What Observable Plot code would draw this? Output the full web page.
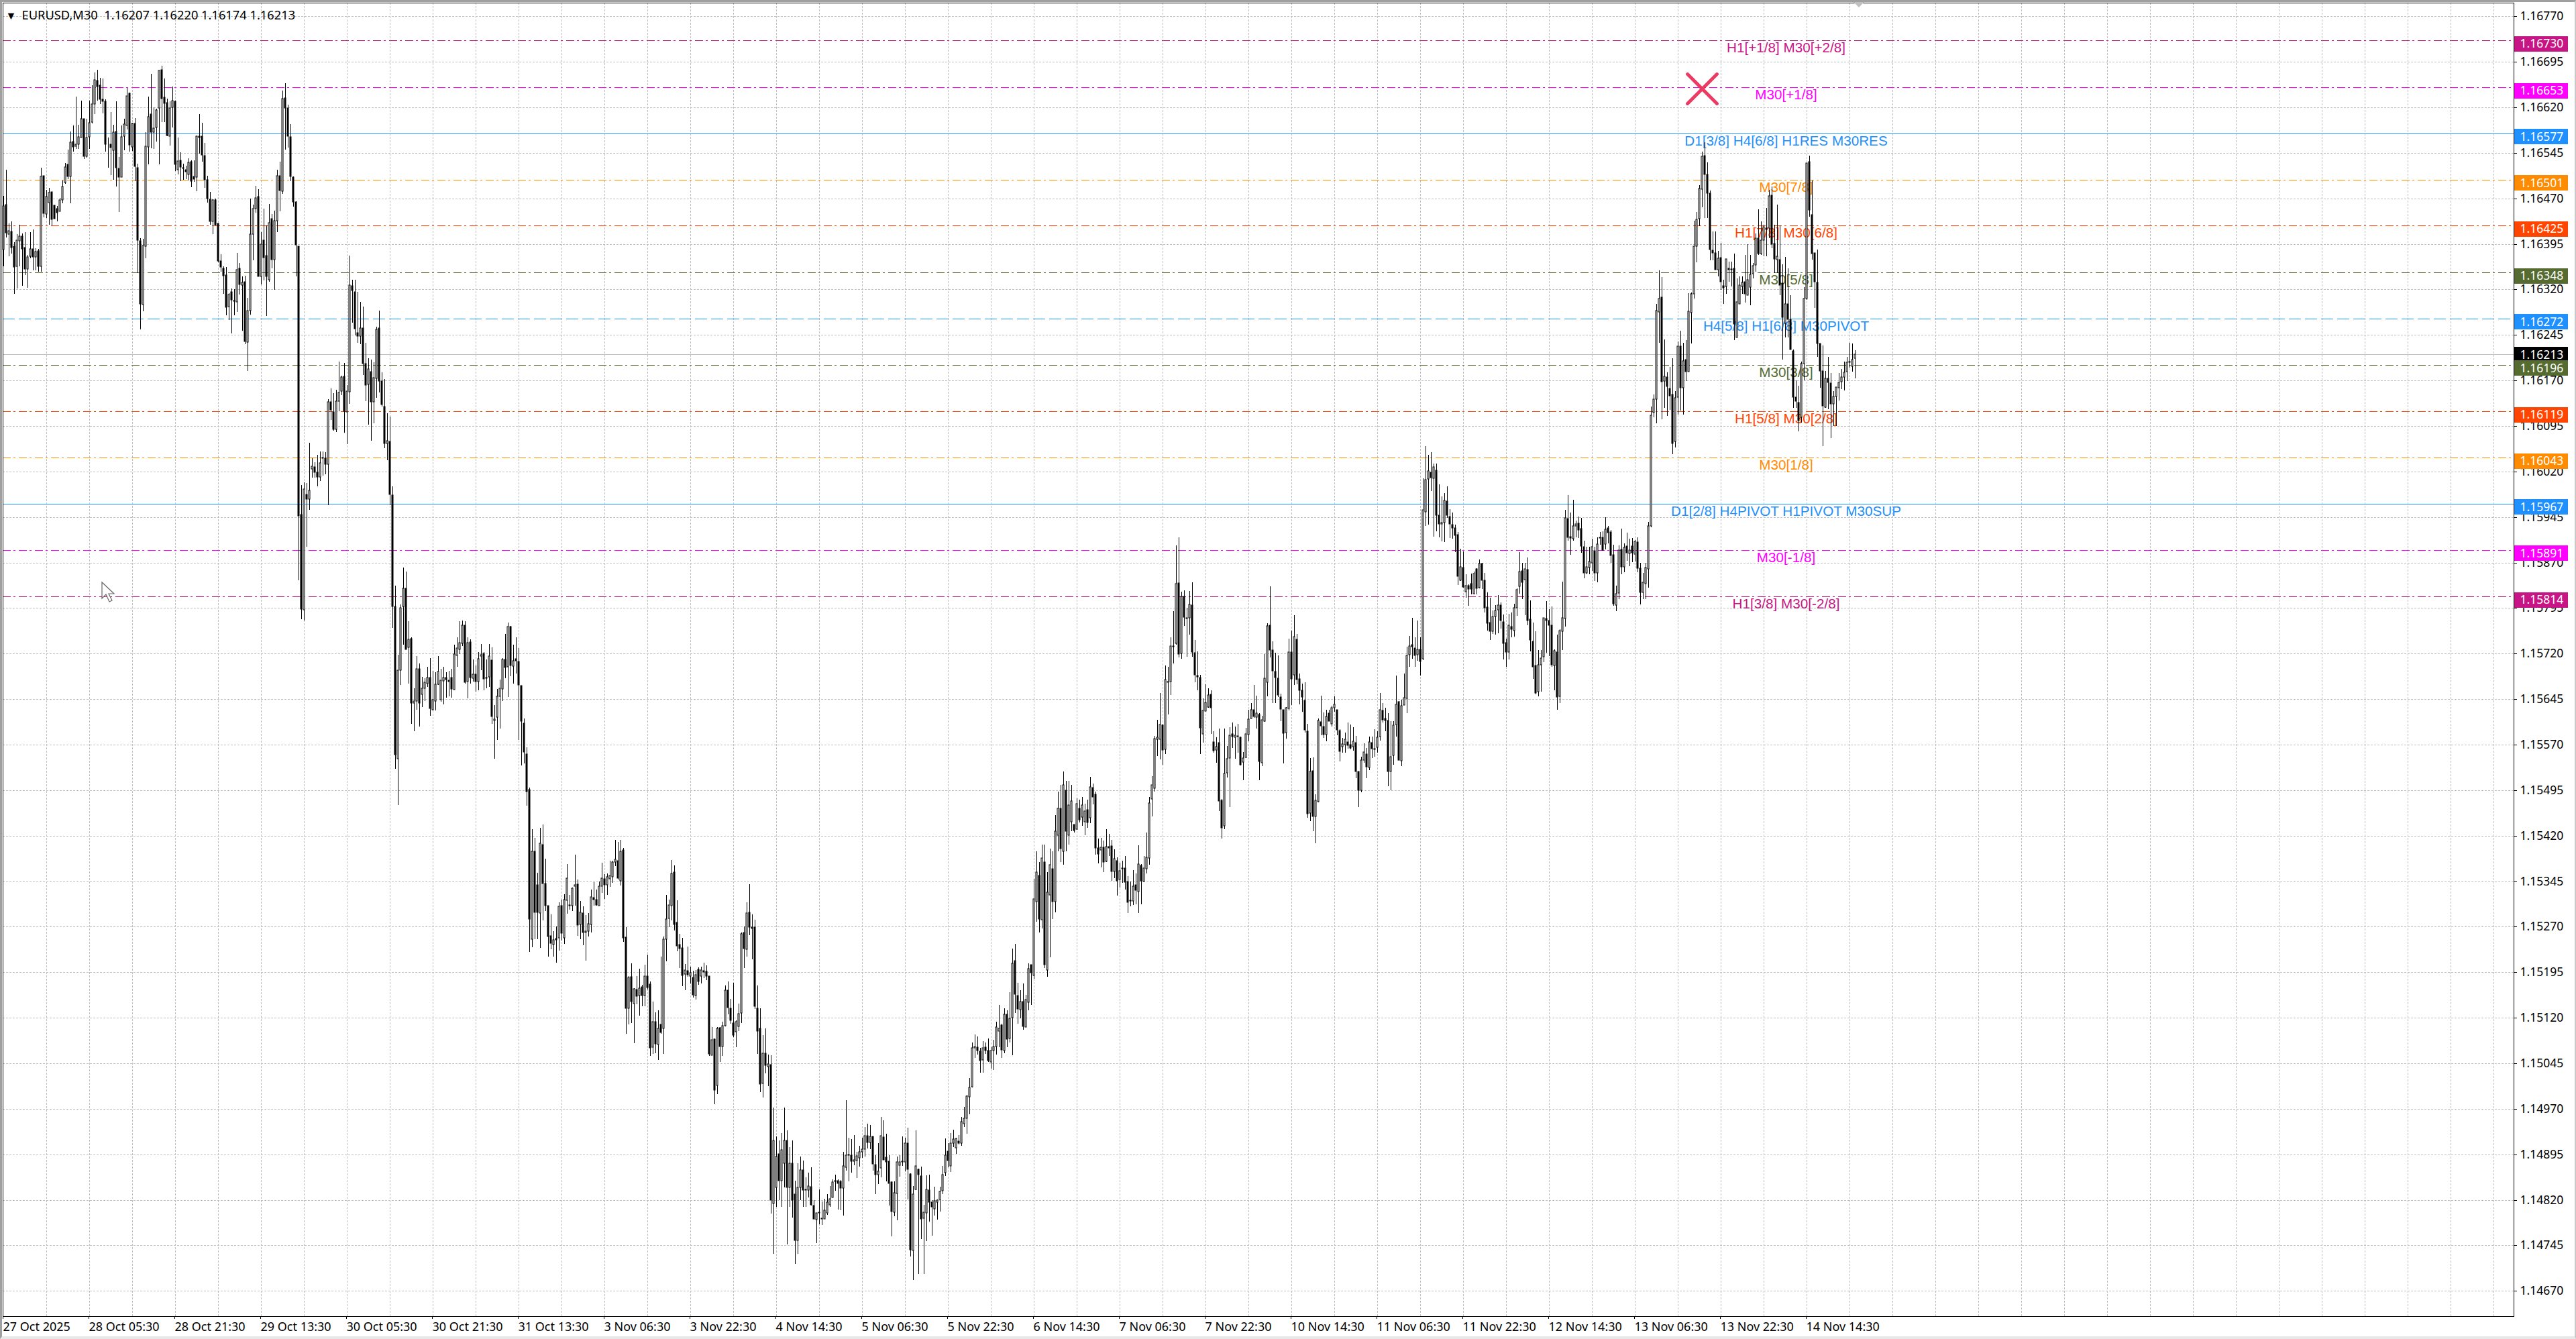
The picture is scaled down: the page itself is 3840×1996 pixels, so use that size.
<!DOCTYPE html>
<html><head><meta charset="utf-8">
<script src="https://cdn.jsdelivr.net/npm/d3@7"></script>
<script src="https://cdn.jsdelivr.net/npm/@observablehq/plot@0.6"></script>
<style>
html,body{margin:0;padding:0;background:#fff;width:3840px;height:1996px;overflow:hidden}
#chart{position:absolute;left:0;top:0}
#chart svg{background:#fff;display:block}
#frame{position:absolute;left:0;top:0;width:3840px;height:1996px;box-sizing:border-box;border-top:3px solid #a0a0a0;border-left:3px solid #a0a0a0;border-right:2px solid #c8c8c8;border-bottom:4px solid #e8e8e8;pointer-events:none}
</style></head><body>
<div id="chart"></div><div id="frame"></div>
<svg style="position:absolute;left:150px;top:866px" width="30" height="36"><path d="M2 2 L2 26 L8 20 L13 31 L17 29 L12 19 L20 19 Z" fill="#fff" stroke="#666" stroke-width="1.2"/></svg>
<svg style="position:absolute;left:2762px;top:3px" width="18" height="10"><path d="M1 0 L17 0 L9 8 Z" fill="#c0c0c0"/></svg>
<script>
// EURUSD M30: flat open, high, low, close quadruples, each value v means 1 + v/100000
const barsOct27 = [16386,16474,16358,16458,16460,16517,16406,16413,16411,16429,16375,16417,16415,16432,16379,16389,16391,16398,16313,16357,16358,16411,16322,16401,16400,16427,16358,16408,16408,16412,16326,16387,16389,16414,16344,16354,16354,16377,16323,16374,16375,16414,16371,16387,16387,16419,16351,16373,16374,16388,16351,16382,16383,16387,16349,16358,16358,16520,16349,16506,16507,16507,16439,16445,16444,16484,16438,16473,16463,16487,16427,16480,16481,16481,16425,16435,16459,16459,16437,16437,16453,16458,16432,16447,16449,16471,16449,16467,16468,16499,16462,16490,16496,16528,16494,16522,16526,16550,16502,16506,16506,16580,16462,16563,16564,16590,16547,16555,16556,16638,16551,16559,16559,16591,16552,16571,16570,16631,16570,16601,16601,16601,16535,16539,16539,16601,16537,16570,16571,16631,16552,16595,16596,16657,16593,16625,16626,16677,16609,16665,16664,16682,16631,16654,16656,16669,16625,16633,16633,16668,16610,16630,16630,16633,16547,16559,16558,16570,16520,16558,16559,16612,16508,16554,16549,16591,16501,16579,16580,16630,16490,16521,16519,16538,16448,16505,16505,16590,16505,16571,16573,16601,16549,16592,16590,16652,16584,16639,16643,16644,16547,16558,16555,16595,16548,16594,16593,16602,16498,16523,16520,16527,16347,16401,16400,16404,16254,16296,16295,16403,16284,16392,16391,16579,16371,16556,16555,16638,16526,16604,16609,16675,16553,16579,16579,16620,16551,16586,16587,16618,16564,16616,16619,16681,16526,16681,16682,16689,16596,16634,16637,16668,16596,16627,16628,16634,16573,16574,16572,16630,16557,16619,16620,16654,16587,16631,16630,16631,16515,16526,16517,16570,16510,16532,16533,16546,16498,16522,16520,16527,16501,16519,16517,16524,16502,16514,16509,16536,16500,16529,16531,16533,16488,16498,16506,16533,16497,16502,16505,16574,16482,16573,16573,16609,16544,16570,16573,16595,16531,16542,16540,16561,16487,16501,16501,16507,16463,16470,16469,16481,16427,16432,16432,16469,16411,16467,16467,16470,16425,16427,16429,16429,16365,16367,16367,16378,16349,16357,16355,16358,16313,16343,16344,16357,16277,16291,16292,16314,16270,16312,16316,16322,16248,16303,16301,16320,16277,16302,16300,16380,16283,16353,16355,16364,16312,16328,16327,16342,16252,16332,16333,16343,16230,16234,16233,16306,16186,16285,16285,16470,16279,16411,16411,16460,16368,16453,16453,16491,16447,16471,16473,16485,16342,16342,16341,16414,16328,16394,16401,16453,16335,16372,16376,16425,16276,16341,16336,16461,16333,16430,16436,16444,16355,16369,16369,16450,16319,16433,16433,16517,16414,16507,16507,16530,16449,16483,16482,16648,16477,16634,16635,16660,16550,16619,16619,16624,16554,16572,16571,16592,16498,16506,16505,16506,16456,16464,16464,16465,16341,16393,16391,16391,15841,15947];
const barsOct30 = [15949,15998,15777,15793,15792,16002,15775,15991,15982,16001,15896,15975,15975,16067,15957,15989,16024,16042,16010,16029,16028,16035,16010,16019,16019,16048,15996,16011,16011,16053,16004,16034,16042,16053,16013,16043,16042,16052,16015,16032,16032,16139,15965,16135,16135,16157,16105,16121,16118,16149,16087,16090,16090,16155,16085,16136,16136,16201,16119,16150,16152,16178,16146,16176,16177,16199,16084,16119,16118,16162,16065,16152,16151,16376,16132,16327,16326,16336,16265,16318,16316,16336,16244,16255,16249,16316,16232,16243,16243,16299,16230,16256,16256,16292,16179,16198,16198,16232,16136,16162,16163,16207,16097,16189,16184,16204,16071,16135,16135,16200,16099,16175,16173,16259,16141,16254,16256,16285,16150,16169,16169,16183,16127,16130,16127,16172,16058,16066,16066,16116,16039,16071,16070,16110,15965,15982,15981,15996,15762,15798,15798,15832,15530,15553,15547,15718,15470,15693,15693,15801,15668,15796,15798,15862,15735,15827,15828,15855,15727,15727,15730,15773,15671,15744,15745,15747,15604,15638,15638,15663,15592,15642,15642,15716,15627,15695,15695,15704,15600,15639,15653,15682,15632,15663,15663,15679,15642,15673,15671,15698,15665,15681,15680,15713,15618,15630,15627,15692,15626,15644,15642,15689,15626,15670,15670,15716,15668,15690,15644,15695,15641,15676,15675,15698,15636,15680,15680,15689,15647,15677,15676,15692,15650,15674,15680,15695,15647,15662,15661,15735,15661,15719,15717,15747,15698,15729,15727,15773,15719,15738,15737,15775,15733,15767,15767,15773,15671,15673,15674,15747,15646,15738,15739,15744,15671,15680,15679,15710,15674,15686,15686,15700,15657,15674,15674,15723,15660,15712,15716,15736,15693,15718,15720,15723,15659,15678,15680,15710,15663,15679,15682,15736,15665,15716,15709,15730,15604,15616,15610,15635,15547,15612,15615,15662,15578,15650,15650,15677,15597,15663,15662,15713,15642,15710,15710,15752,15679,15697,15698,15771,15649,15764,15765,15766,15683,15700,15699,15735,15671,15708,15711,15747,15687,15708,15707,15729,15578,15668,15667,15667,15536,15609,15605,15613,15539,15558,15554,15566,15469,15493,15496,15499,15228,15283,15250,15431,15236,15394,15394,15416,15250,15294];
const barsNov3 = [15339,15359,15250,15294,15293,15433,15235,15408,15405,15438,15280,15341,15341,15382,15296,15305,15305,15305,15221,15254,15255,15290,15233,15243,15241,15263,15221,15248,15251,15271,15211,15248,15252,15310,15231,15304,15305,15315,15247,15259,15252,15324,15242,15315,15314,15373,15291,15350,15306,15322,15298,15305,15305,15335,15296,15333,15337,15389,15305,15339,15340,15348,15255,15273,15274,15312,15249,15294,15293,15304,15240,15260,15260,15289,15214,15263,15263,15293,15254,15275,15274,15331,15261,15319,15318,15343,15305,15315,15315,15331,15305,15306,15305,15344,15305,15337,15337,15375,15326,15350,15349,15357,15316,15339,15339,15358,15322,15352,15349,15379,15336,15355,15352,15379,15342,15377,15377,15413,15370,15381,15379,15410,15348,15350,15346,15413,15338,15394,15396,15400,15245,15252,15253,15269,15094,15136,15136,15189,15109,15187,15188,15210,15111,15147,15143,15169,15078,15168,15167,15189,15142,15156,15157,15201,15123,15169,15171,15174,15139,15157,15157,15207,15139,15189,15189,15224,15167,15170,15175,15180,15057,15070,15071,15147,15060,15114,15113,15129,15062,15077,15076,15132,15050,15102,15109,15221,15094,15096,15102,15254,15060,15250,15249,15322,15213,15283,15284,15315,15269,15306,15305,15380,15280,15358,15360,15371,15264,15274,15277,15314,15230,15238,15241,15258,15202,15234,15235,15252,15172,15190,15192,15209,15166,15199,15198,15237,15188,15191,15189,15204,15177,15194,15187,15197,15153,15158,15157,15199,15150,15191,15200,15203,15174,15180,15189,15204,15176,15199,15197,15211,15185,15195,15196,15206,15182,15189,15189,15189,15057,15060,15058,15105,15058,15084,15085,15086,14978,15001,15009,15105,14994,15103,15104,15105,15047,15073,15073,15114,15057,15107,15107,15173,15106,15166,15166,15180,15126,15137,15136,15151,15110,15116,15111,15178,15088,15091,15097,15116,15072,15113,15106,15143,15098,15127,15128,15261,15111,15258,15260,15270,15202,15234,15233,15310,15221,15293,15294,15340,15256,15269,15269,15290,15216,15267,15269,15281,15135,15139,15136,15173,15061,15098,15103,15136,14998,15011,15012,15091,14989,15062,15062,15102,15028,15042,15039,15059,15007,15044,15043,15058,14797,14819,14814,14972,14731,14918,14841,14924,14808,14891,14896,14918,14819,14852,14852,14930,14808,14902,14880,14972,14841,14918,14918,14935,14747,14841,14841,14907,14808,14880,14880,14918,14791,14819,14830,14852,14714,14753,14753,14880,14731,14841,14841,14891,14819,14869,14869,14885,14808,14836];
const barsNov5 = [14836,14857,14808,14837,14836,14865,14824,14843,14842,14874,14811,14812,14811,14820,14788,14789,14788,14799,14749,14799,14800,14837,14780,14798,14789,14817,14779,14790,14789,14822,14789,14803,14799,14829,14795,14816,14812,14843,14808,14822,14824,14854,14824,14849,14852,14862,14835,14851,14852,14854,14804,14847,14851,14853,14803,14839,14839,14899,14794,14876,14874,14984,14868,14894,14894,14922,14850,14895,14894,14920,14865,14884,14884,14927,14877,14886,14885,14899,14856,14892,14889,14909,14875,14899,14899,14922,14889,14904,14904,14940,14891,14926,14926,14945,14905,14915,14915,14943,14904,14925,14925,14925,14868,14879,14878,14894,14830,14861,14861,14913,14846,14867,14873,14957,14857,14926,14923,14951,14886,14886,14890,14929,14851,14883,14884,14894,14811,14847,14849,14851,14760,14801,14800,14851,14793,14832,14831,14891,14786,14883,14877,14894,14858,14883,14883,14925,14876,14884,14883,14922,14867,14914,14913,14939,14821,14870,14863,14864,14727,14738,14737,14843,14688,14830,14837,14935,14836,14876,14870,14871,14698,14861,14859,14875,14755,14789,14790,14812,14698,14800,14799,14860,14752,14837,14836,14862,14784,14816,14816,14819,14761,14808,14805,14842,14794,14818,14816,14821,14788,14820,14821,14842,14801,14834,14835,14876,14829,14862,14865,14921,14859,14894,14900,14913,14874,14885,14876,14930,14866,14914,14913,14936,14907,14920,14906,14922,14896,14921,14917,14927,14911,14913,14914,14957,14909,14949,14946,14973,14940,14954,14954,14993,14929,14991,14990,15021,14961,15005,15006,15079,15005,15070,15070,15092,15054,15073,15072,15089,15059,15066,15065,15070,15029,15049,15050,15082,15030,15070,15072,15079,15060,15066,15066,15086,15047,15049,15047,15072,15036,15066,15066,15084,15034,15073,15073,15113,15059,15105,15098,15141,15072,15103,15108,15110,15054,15067,15066,15136,15062,15126,15126,15132,15072,15085,15086,15162,15079,15119,15120,15234,15058,15210,15214,15242,15128,15159,15157,15178,15110,15134,15133,15166,15119,15147,15147,15177,15100,15106,15105,15158,15105,15150,15146,15210,15132,15201,15207,15207,15141,15194,15190,15349,15184,15316,15311,15394,15278,15360,15355,15377,15261,15283,15281,15405,15267,15383,15377,15405,15202,15207,15199,15360,15188,15327,15322,15399,15220,15372,15366,15394,15283,15311,15311,15454,15294,15427,15421,15493,15394,15465,15465,15504,15377,15399,15394,15526,15372,15504,15495,15510,15394,15427,15421,15510,15405,15471,15443,15504,15427,15477];
const barsNov7 = [15439,15439,15425,15429,15431,15482,15430,15473,15465,15479,15442,15446,15451,15484,15436,15470,15443,15473,15421,15461,15463,15479,15433,15442,15449,15517,15441,15500,15499,15506,15472,15484,15488,15493,15389,15400,15400,15415,15374,15390,15397,15416,15368,15401,15401,15412,15360,15377,15378,15431,15377,15402,15402,15423,15387,15400,15403,15413,15346,15361,15361,15398,15350,15382,15379,15384,15321,15346,15348,15376,15335,15362,15366,15379,15342,15367,15367,15387,15331,15343,15345,15353,15293,15310,15313,15345,15304,15314,15312,15363,15306,15337,15339,15358,15307,15330,15328,15404,15293,15373,15371,15373,15307,15346,15345,15386,15344,15367,15366,15425,15358,15384,15383,15484,15372,15474,15481,15518,15452,15504,15498,15584,15493,15580,15579,15611,15551,15582,15579,15655,15546,15603,15602,15604,15537,15561,15562,15700,15555,15677,15673,15698,15620,15674,15674,15747,15652,15733,15733,15790,15704,15731,15737,15898,15735,15835,15836,15912,15714,15719,15720,15822,15711,15814,15814,15824,15766,15780,15778,15795,15715,15779,15779,15823,15751,15801,15800,15838,15715,15722,15721,15742,15673,15685,15684,15724,15660,15682,15681,15685,15554,15598,15588,15646,15573,15626,15625,15670,15625,15640,15632,15663,15631,15652,15653,15660,15588,15631,15574,15592,15557,15560,15561,15582,15540,15567,15573,15597,15461,15477,15478,15480,15415,15433,15436,15597,15431,15522,15524,15568,15516,15547,15548,15599,15467,15585,15588,15607,15564,15583,15582,15600,15547,15586,15584,15604,15557,15583,15582,15583,15536,15537,15541,15558,15511,15548,15549,15598,15548,15588,15587,15627,15576,15612,15613,15638,15613,15627,15628,15668,15614,15616,15615,15651,15596,15622,15620,15622,15511,15542,15540,15617,15535,15611,15609,15719,15608,15679,15673,15770,15650,15766,15767,15831,15714,15726,15726,15740,15639,15692,15691,15721,15639,15680,15679,15717,15649,15652,15649,15654,15609,15629,15628,15628,15539,15589,15590,15632,15580,15631,15630,15745,15626,15723,15723,15758,15635,15678,15685,15783,15668,15748,15743,15752,15670,15677,15678,15687,15636,15660,15659,15671,15624,15648,15643,15673,15590,15594,15592,15604,15449,15456,15457,15548,15444,15526,15527,15549,15427,15452,15452,15488,15408,15478,15476,15613,15475,15610,15608,15651,15585,15601,15600,15623,15581,15587,15587,15628,15576,15616,15622,15628,15609,15609,15604,15634,15600,15631,15631,15650,15624,15636,15628,15628,15585,15594,15593,15595,15542,15559,15567,15581,15557,15571,15570,15590,15557,15579,15574,15606,15563,15569,15570,15603,15562,15564,15567,15599,15560,15576];
const barsNov11 = [15573,15584,15515,15526,15526,15526,15467,15495,15495,15550,15492,15545,15545,15572,15540,15558,15555,15565,15515,15534,15532,15583,15528,15574,15573,15583,15548,15563,15563,15595,15550,15562,15566,15592,15557,15582,15583,15655,15577,15628,15626,15639,15607,15611,15613,15631,15592,15610,15610,15622,15502,15526,15526,15609,15495,15550,15552,15609,15537,15602,15603,15684,15583,15636,15641,15642,15544,15545,15543,15644,15535,15634,15635,15687,15635,15647,15646,15731,15622,15717,15718,15749,15698,15733,15735,15779,15712,15731,15729,15747,15698,15717,15718,15774,15708,15727,15727,15747,15684,15707,15711,16009,15709,15957,15954,16062,15930,16007,16008,16048,15932,16021,16019,16052,15988,16010,16009,16033,15913,16028,16022,16033,15921,15948,15948,15999,15911,15934,15934,15979,15905,15936,15936,15985,15904,15972,15971,15995,15944,15948,15946,15958,15910,15934,15933,15952,15909,15927,15927,15932,15887,15915,15916,15920,15833,15847,15841,15893,15840,15863,15862,15888,15829,15830,15822,15851,15812,15832,15832,15834,15799,15826,15835,15852,15818,15826,15819,15855,15818,15852,15860,15861,15818,15828,15829,15875,15827,15868,15868,15869,15826,15841,15841,15853,15788,15796,15797,15821,15758,15770,15771,15812,15742,15757,15757,15791,15752,15781,15781,15800,15751,15791,15792,15816,15754,15800,15800,15804,15761,15775,15772,15784,15710,15737,15738,15745,15698,15723,15722,15785,15710,15767,15764,15788,15747,15760,15758,15802,15748,15795,15796,15828,15782,15825,15831,15887,15819,15855,15856,15869,15810,15838,15842,15869,15783,15860,15858,15878,15767,15775,15777,15808,15724,15742,15740,15771,15678,15698,15700,15757,15653,15655,15657,15726,15650,15701,15702,15726,15657,15713,15715,15779,15706,15779,15778,15806,15721,15774,15774,15793,15716,15767,15767,15798,15698,15702,15700,15727,15660,15725,15722,15751,15627,15648,15650,15760,15639,15758,15757,15839,15726,15779,15778,15957,15764,15944,15943,15981,15906,15911,15913,15952,15883,15910,15909,15973,15906,15930,15930,15939,15911,15934,15935,15946,15910,15924,15926,15944,15886,15897,15896,15906,15844,15853,15853,15896,15851,15863,15862,15896,15851,15872,15869,15909,15856,15896,15889,15896,15840,15853,15853,15911,15837,15900,15910,15920,15899,15911,15912,15922,15889,15891,15901,15945,15892,15925,15927,15930,15902,15919,15920,15924,15869,15882,15883,15899,15799,15802,15800,15832,15790,15819,15820,15898,15810,15890,15892,15926,15851,15863,15863,15902,15854,15895,15897,15919,15873,15886,15885,15909,15864,15890,15897,15910,15871,15886,15884,15907,15872,15905,15904,15911,15854,15861,15861,15869,15801,15821,15821,15853,15810,15837,15835,15869,15810,15862,15860,15937,15829,15930];
const barsNov13 = [15930,16127,15928,16113,16117,16147,16109,16139,16139,16296,16099,16285,16283,16351,16232,16305,16307,16340,16106,16168,16169,16238,16125,16177,16176,16183,16112,16160,16157,16192,16121,16145,16147,16207,16049,16066,16070,16153,16060,16141,16142,16234,16114,16226,16227,16252,16120,16158,16158,16232,16114,16202,16204,16237,16169,16184,16185,16314,16184,16284,16282,16315,16231,16313,16313,16433,16305,16391,16391,16448,16365,16435,16436,16492,16424,16486,16485,16547,16455,16539,16540,16563,16438,16509,16510,16529,16438,16479,16478,16483,16368,16386,16385,16416,16368,16380,16380,16416,16352,16353,16353,16383,16341,16371,16372,16397,16319,16333,16326,16336,16296,16323,16325,16370,16313,16370,16355,16366,16333,16352,16354,16366,16325,16353,16355,16379,16236,16263,16241,16338,16241,16300,16296,16341,16296,16327,16325,16341,16313,16331,16333,16377,16298,16313,16311,16394,16311,16336,16324,16377,16294,16345,16346,16364,16338,16359,16360,16412,16349,16405,16405,16452,16377,16379,16379,16432,16377,16401,16401,16427,16375,16423,16421,16454,16375,16419,16421,16484,16405,16474,16475,16490,16388,16394,16396,16427,16347,16370,16369,16460,16347,16375,16369,16425,16311,16327,16330,16361,16204,16274,16264,16374,16241,16296,16296,16355,16241,16271,16271,16311,16221,16221,16219,16221,16125,16143,16142,16170,16125,16136,16134,16161,16086,16104,16109,16201,16101,16198,16198,16324,16170,16305,16305,16528,16303,16528,16530,16540,16440,16451,16443,16499,16369,16379,16380,16380,16289,16333,16331,16386,16209,16231,16231,16231,16158,16186,16186,16228,16062,16128,16126,16186,16125,16174,16173,16209,16123,16167,16166,16182,16075,16132,16132,16152,16095,16144,16144,16159,16095,16159,16158,16182,16137,16167,16168,16189,16156,16176,16176,16201,16154,16183,16184,16209,16169,16200,16201,16232,16191,16200,16193,16231,16184,16204,16207,16220,16174,16213];

const priceTicks = [16770,16695,16620,16545,16470,16395,16320,16245,16170,16095,16020,15945,15870,15795,15720,15645,15570,15495,15420,15345,15270,15195,15120,15045,14970,14895,14820,14745,14670];
const dateLabels = ["27 Oct 2025","28 Oct 05:30","28 Oct 21:30","29 Oct 13:30","30 Oct 05:30","30 Oct 21:30","31 Oct 13:30","3 Nov 06:30","3 Nov 22:30","4 Nov 14:30","5 Nov 06:30","5 Nov 22:30","6 Nov 14:30","7 Nov 06:30","7 Nov 22:30","10 Nov 14:30","11 Nov 06:30","11 Nov 22:30","12 Nov 14:30","13 Nov 06:30","13 Nov 22:30","14 Nov 14:30"];
const levelPrices = [16730,16653,16577,16501,16425,16348,16272,16196,16119,16043,15967,15891,15814];
const levelColors = ["#c71585","#ff00ff","#1e90ff","#ff8c00","#ff4500","#556b2f","#1e90ff","#556b2f","#ff4500","#ff8c00","#1e90ff","#ff00ff","#c71585"];
const levelStyle = ["dashdot","dashdot","solid","dashdot","dashdot","dashdot","dash","dashdot","dashdot","dashdot","solid","dashdot","dashdot"];
const levelNames = ["H1[+1/8] M30[+2/8]","M30[+1/8]","D1[3/8] H4[6/8] H1RES M30RES","M30[7/8]","H1[7/8] M30[6/8]","M30[5/8]","H4[5/8] H1[6/8] M30PIVOT","M30[3/8]","H1[5/8] M30[2/8]","M30[1/8]","D1[2/8] H4PIVOT H1PIVOT M30SUP","M30[-1/8]","H1[3/8] M30[-2/8]"];
const bidPrice = 16213;
const crossMark = {bar: 633, price: 16651};
const labelBar = 664.25;
const header = "EURUSD,M30  1.16207 1.16220 1.16174 1.16213";

const px = v => 1 + v / 100000;
const flat = [...barsOct27, ...barsOct30, ...barsNov3, ...barsNov5, ...barsNov7, ...barsNov11, ...barsNov13];
const bars = d3.range(flat.length / 4).map(i => ({i, o: px(flat[4*i]), h: px(flat[4*i+1]), l: px(flat[4*i+2]), c: px(flat[4*i+3])}));
const levels = levelPrices.map((p, k) => ({p: px(p), color: levelColors[k], style: levelStyle[k], name: levelNames[k], label: px(p).toFixed(5)}));
const barHalf = 0.25;
const font = "'Noto Sans', sans-serif";
const gridColor = "#c0c0c0";
const perPx = 1 / 90476;
const lastSlot = 935.5;
const dashes = {solid: "none", dash: "18,6", dashdot: "12,4,3,5"};

const chart = Plot.plot({
  width: 3840, height: 1996,
  marginLeft: 4, marginRight: 93, marginTop: 4, marginBottom: 34,
  style: {fontFamily: font, background: "#fff", overflow: "visible"},
  x: {type: "linear", domain: [-0.25, lastSlot], round: true},
  y: {type: "linear", domain: [1.16770 - 1937.7*perPx, 1.16770 + 20.3*perPx], round: true},
  marks: [
    Plot.ruleY(priceTicks.map(px), {stroke: gridColor, strokeDasharray: "3,2", strokeWidth: 1}),
    Plot.ruleX(d3.range(16, 936, 16), {stroke: gridColor, strokeDasharray: "3,2", strokeWidth: 1}),
    Plot.ruleY([px(bidPrice)], {stroke: "#c0c0c0", strokeWidth: 1}),
    ...Object.entries(dashes).map(([k, dash]) => Plot.ruleY(levels.filter(d => d.style === k), {y: "p", stroke: "color", strokeWidth: 1, strokeDasharray: dash})),
    Plot.text(levels, {x: () => labelBar, y: "p", dy: 11, text: "name", fill: "color", fontSize: 20.7, fontFamily: "'Liberation Sans', Arial, sans-serif", textAnchor: "middle"}),
    Plot.ruleX(bars, {x: "i", y1: "l", y2: "h", stroke: "#000", strokeWidth: 1}),
    Plot.rect(bars, {x1: d => d.i - barHalf, x2: d => d.i + barHalf, y1: "o", y2: "c", fill: d => d.c >= d.o ? "#fff" : "#000", stroke: "#000", strokeWidth: 1}),
    Plot.dot([crossMark], {x: "bar", y: d => px(d.price), symbol: "times", r: 20, stroke: "#ec2f5c", strokeWidth: 5, strokeLinecap: "round", strokeOpacity: 0.95}),
    Plot.frame({stroke: "#000", strokeWidth: 1}),
    Plot.axisY(priceTicks.map(px), {anchor: "right", tickSize: 4, tickPadding: 5, tickFormat: d => d.toFixed(5), fontSize: 17.5, fill: "#000", stroke: "#000", label: null, textAnchor: "start"}),
    Plot.axisX(d3.range(0, dateLabels.length * 32, 32), {anchor: "bottom", tickSize: 4, tickPadding: 5, tickFormat: d => dateLabels[d / 32], fontSize: 18, fill: "#000", stroke: "#000", label: null, textAnchor: "start", dx: -1}),
    Plot.rect([px(bidPrice)], {x1: () => lastSlot + 0.25, x2: () => lastSlot + 20.25, y1: d => d + 11.5*perPx, y2: d => d - 11.5*perPx, fill: "#000"}),
    Plot.text([px(bidPrice)], {x: () => lastSlot + 2.25, y: d => d, dy: 1, text: d => d.toFixed(5), fill: "#fff", fontSize: 17.5, textAnchor: "start"}),
    Plot.rect(levels, {x1: () => lastSlot + 0.25, x2: () => lastSlot + 20.25, y1: d => d.p + 6.5*perPx, y2: d => d.p - 16.5*perPx, fill: "color"}),
    Plot.text(levels, {x: () => lastSlot + 2.25, y: "p", dy: 5, text: "label", fill: "#fff", fontSize: 17.5, textAnchor: "start"}),
    Plot.text(["\u25BC"], {frameAnchor: "top-left", dx: 4, dy: 13, text: d => d, fontSize: 16, fill: "#000", textAnchor: "start"}),
    Plot.text([header], {frameAnchor: "top-left", dx: 28, dy: 19, text: d => d, fontSize: 18.3, fill: "#000", textAnchor: "start", lineAnchor: "middle"})
  ]
});
document.getElementById("chart").appendChild(chart);
</script>
</body></html>
